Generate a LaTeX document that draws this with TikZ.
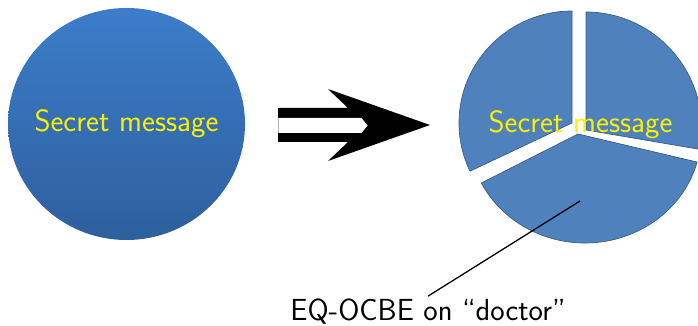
\documentclass[tikz,border=0pt]{standalone}
\usetikzlibrary{shapes.geometric}
\definecolor{msgyellow}{RGB}{250,240,0}
\definecolor{slicefill}{RGB}{79,129,189}
\definecolor{sliceline}{RGB}{56,93,138}
\definecolor{circtop}{RGB}{60,125,202}
\definecolor{circbot}{RGB}{46,95,157}
\tikzset{
  msg/.style={font=\sffamily\fontsize{30.8}{31}\selectfont, text=msgyellow, inner sep=0pt},
  slice/.style={fill=slicefill, draw=sliceline, line width=0.7pt, line join=round},
  lbltext/.style={font=\sffamily\fontsize{30.5}{31}\selectfont, text=black, inner sep=0pt},
}
\begin{document}
\begin{tikzpicture}[x=1pt,y=1pt]
\useasboundingbox (0,0) rectangle (698,326);
\clip (0,0) rectangle (698,326);
% left circle
\node[ellipse, minimum width=237pt, minimum height=232pt, inner sep=0pt, outer sep=0pt,
      top color=circtop, bottom color=circbot] (secret) at (126.5,202) {};
\node[msg] (secrettext) at (secret.center) {Secret message};
% double arrow
\fill[black] (278,218) -- (348,218) -- (328,237) -- (430,201) -- (328,165) -- (348,184) -- (278,184) -- cycle;
\fill[white] (278,208) -- (361.5,208) -- (367.5,200.5) -- (361.5,193) -- (278,193) -- cycle;
\draw[gray!60, line width=0.5pt] (278,208) -- (278,193);
% pie slices
\draw[slice] (572,203) -- ++(0,112pt) arc[start angle=90, end angle=205.5, x radius=113pt, y radius=112pt] -- cycle;
\draw[slice] (586,196) -- ++(0,118pt) arc[start angle=90, end angle=-9.5, x radius=116pt, y radius=118pt] -- cycle;
\draw[slice] (578,192) -- ([shift={(206.7:116pt and 109pt)}]585,192) arc[start angle=206.7, end angle=345.1, x radius=116pt, y radius=109pt] -- cycle;
\node[msg] (pietext) at (580.5,201) {Secret message};
% label and connector
\node[lbltext, anchor=base] (lbl) at (428,5) {EQ-OCBE on ``doctor''};
\coordinate (tip) at (580,125);
\draw[line width=1.3pt] ([yshift=3pt]lbl.north) -- (tip);
\end{tikzpicture}
\end{document}
